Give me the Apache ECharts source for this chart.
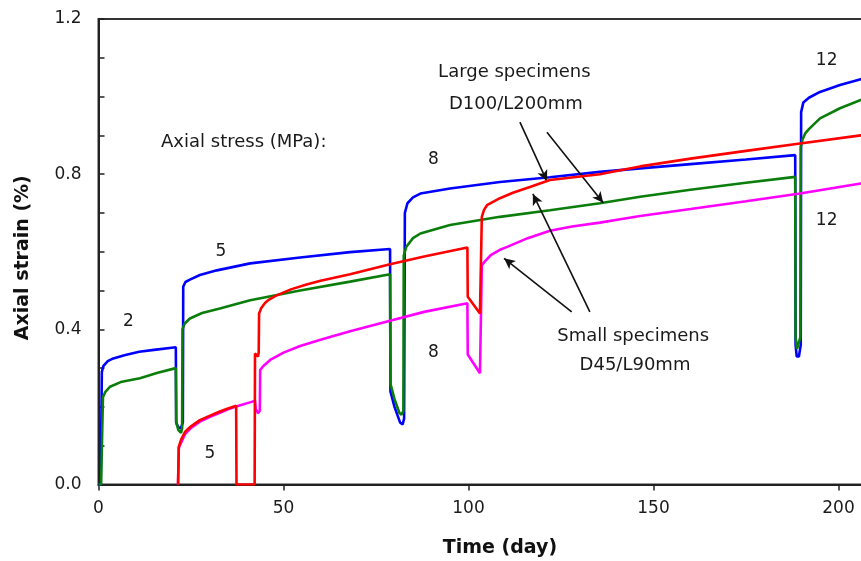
<!DOCTYPE html>
<html><head><meta charset="utf-8">
<script src="https://cdn.jsdelivr.net/npm/echarts@6/dist/echarts.min.js"></script>
<style>html,body{margin:0;padding:0;background:#fff}#c{width:861px;height:561px}</style>
</head><body><div id="c"></div>
<script>
// ---- data: [time (day), axial strain (%)] ----
const largeBlue = [
  [0,0],[0.6,0],[0.9,0.29],[1.3,0.305],[2.5,0.318],[4,0.325],[7,0.333],[11,0.342],[15,0.347],[20.9,0.354],
  [21.0,0.16],[21.5,0.148],[22.3,0.145],[22.8,0.16],[22.9,0.51],[23.5,0.522],[24.7,0.528],[27.4,0.54],[32,0.552],[41,0.57],[54.5,0.585],[68,0.599],[78.8,0.607],
  [78.9,0.24],[80,0.2],[81.5,0.16],[82.2,0.155],[82.6,0.17],[82.8,0.70],[83.5,0.725],[85,0.74],[87,0.75],[95,0.763],[108.5,0.78],[122,0.792],[135.5,0.806],[146.4,0.815],[160,0.826],[175,0.838],[188.3,0.849],
  [188.4,0.36],[188.7,0.33],[189.3,0.33],[189.8,0.36],[189.9,0.96],[190.5,0.985],[192,0.997],[195,1.012],[200.4,1.03],[206,1.045],[212,1.056]
];
const largeGreen = [
  [0,0],[0.7,0],[1.2,0.225],[1.8,0.238],[3.1,0.252],[6,0.264],[11.2,0.274],[16,0.288],[20.9,0.30],
  [21.0,0.16],[21.6,0.14],[22.3,0.133],[22.6,0.145],[22.7,0.40],[23.3,0.415],[24.7,0.428],[28,0.442],[32.8,0.454],[41,0.475],[54.5,0.50],[68,0.523],[78.8,0.542],
  [78.9,0.26],[80,0.22],[81.3,0.185],[81.9,0.18],[82.4,0.19],[82.5,0.59],[83.2,0.613],[85,0.635],[87,0.647],[95,0.669],[108.5,0.69],[122,0.707],[135.5,0.725],[146.4,0.742],[160,0.76],[175,0.778],[188.3,0.793],
  [188.4,0.38],[188.8,0.35],[189.3,0.35],[189.7,0.38],[189.8,0.87],[190.3,0.89],[191,0.905],[192,0.916],[195,0.944],[200.4,0.97],[206,0.991],[212,1.005]
];
const smallRed = [
  [21.5,0],[21.7,0.097],[22.3,0.115],[23.4,0.136],[25,0.15],[27.4,0.166],[30,0.177],[32.8,0.188],[35,0.196],[37.2,0.203],
  [37.3,0],[42.2,0],[42.3,0.338],[42.8,0.34],[43.1,0.33],[43.3,0.34],[43.4,0.441],[44,0.455],[45,0.468],[46,0.476],[48,0.487],[52,0.503],[56,0.515],[60,0.525],[68,0.542],[78.8,0.568],[88,0.588],[99.7,0.611],
  [99.8,0.484],[103.1,0.441],[103.6,0.69],[104.2,0.708],[105,0.72],[108.5,0.738],[112,0.752],[116.6,0.767],[122,0.785],[135.5,0.80],[141,0.81],[146.4,0.82],[160,0.84],[175,0.86],[189.6,0.879],[206,0.90],[212,0.907]
];
const smallMagenta = [
  [21.5,0],[21.7,0.095],[22.3,0.107],[23.4,0.13],[25,0.146],[27.4,0.162],[30,0.174],[32.8,0.185],[35,0.194],[37.2,0.201],[39,0.206],[41.4,0.213],[42.3,0.216],
  [42.5,0.195],[43.1,0.184],[43.6,0.19],[43.7,0.295],[44.5,0.305],[46.4,0.321],[50,0.34],[54.5,0.357],[60,0.373],[68,0.395],[78.8,0.422],[88,0.445],[99.7,0.467],
  [99.8,0.335],[103.1,0.287],[103.3,0.40],[103.6,0.565],[104.5,0.576],[106,0.591],[108.5,0.605],[110.3,0.612],[116,0.635],[122,0.654],[128,0.665],[135.5,0.675],[141,0.684],[146.4,0.692],[160,0.71],[175,0.73],[189.6,0.75],[206,0.776],[212,0.784]
];
const seriesNames = ['Large A','Large B','Small B','Small A'];
const seriesColors = ['#0000ff','#0a7d0a','#ff00ff','#ff0000'];

// ---- axes ----
const xTicks = [0, 50, 100, 150, 200];
const yLabelValues = [0.0, 0.4, 0.8, 1.2];

// ---- annotations: [day, strain, text, align, size] ----
const annotations = [
  [8.1, 0.42, '2', 'center', 17],
  [33.1, 0.60, '5', 'center', 17],
  [30.1, 0.08, '5', 'center', 17],
  [90.5, 0.838, '8', 'center', 17],
  [90.5, 0.34, '8', 'center', 17],
  [196.8, 1.092, '12', 'center', 17],
  [196.8, 0.68, '12', 'center', 17],
  [16.9, 0.883, 'Axial stress (MPa):', 'left', 18],
  [112.4, 1.062, 'Large specimens', 'center', 18],
  [112.8, 0.981, 'D100/L200mm', 'center', 18],
  [144.5, 0.383, 'Small specimens', 'center', 18],
  [145.0, 0.306, 'D45/L90mm', 'center', 18]
];
const arrowStarts = [[113.9,0.934],[121.2,0.908],[132.8,0.445],[127.9,0.445]];
const arrowEnds   = [[121.2,0.782],[136.4,0.726],[117.4,0.749],[109.6,0.583]];

const FONT = 'DejaVu Sans';
const chart = echarts.init(document.getElementById('c'), null, {renderer:'canvas'});
const dataSets = [largeBlue, largeGreen, smallMagenta, smallRed];

const lineSeries = dataSets.map((d,i) => ({
  name: seriesNames[i], type:'line', data:d, showSymbol:false, symbol:'none',
  lineStyle:{color:seriesColors[i], width:2.6}, itemStyle:{color:seriesColors[i]},
  silent:true, z:2+i, animation:false
}));

chart.setOption({
  animation:false,
  grid:{left:98.5, top:19, width:802.9, height:465.5, outerBoundsMode:'none', containLabel:false,
    show:true, borderColor:'#333', borderWidth:2, backgroundColor:'transparent'},
  xAxis:{
    type:'value', min:0, max:217, interval:50,
    name:'Time (day)', nameLocation:'middle', nameGap:54,
    nameTextStyle:{fontFamily:FONT, fontWeight:'bold', fontSize:19, color:'#111'},
    axisLine:{lineStyle:{color:'#222', width:2}},
    axisTick:{show:true, inside:false, length:6, lineStyle:{color:'#222', width:1.5}},
    axisLabel:{fontFamily:FONT, fontSize:17, color:'#1a1a1a', margin:16, showMaxLabel:false,
      formatter: v => xTicks.indexOf(v) >= 0 ? String(v) : ''},
    splitLine:{show:false}
  },
  yAxis:{
    type:'value', min:0, max:1.2, interval:0.1,
    name:'Axial strain (%)', nameLocation:'middle', nameGap:66,
    nameTextStyle:{fontFamily:FONT, fontWeight:'bold', fontSize:19, color:'#111', padding:[0,12,0,0]},
    axisLine:{show:true, lineStyle:{color:'#222', width:2}},
    axisTick:{show:true, inside:true, length:6, lineStyle:{color:'#222', width:1.5}},
    axisLabel:{fontFamily:FONT, fontSize:17, color:'#1a1a1a', margin:17,
      formatter: v => { const m = yLabelValues.find(t => Math.abs(t - v) < 1e-6); return m === undefined ? '' : m.toFixed(1); }},
    splitLine:{show:false}
  },
  series: lineSeries.concat([
    {
      type:'line', data:[], silent:true, z:10,
      markLine:{
        silent:true, animation:false,
        symbol:['none','arrow'], symbolSize:[8,11],
        label:{show:false},
        lineStyle:{color:'#111', width:1.6, type:'solid', opacity:1},
        data: arrowStarts.map((s,i) => [{coord:s}, {coord:arrowEnds[i]}])
      }
    },
    {
      type:'scatter', silent:true, z:11, symbolSize:0,
      itemStyle:{opacity:1},
      data: annotations.map(a => ({
        value:[a[0], a[1]],
        label:{show:true, position:'inside', formatter:a[2], align:a[3], verticalAlign:'middle',
          fontFamily:FONT, fontSize:a[4], color:'#1a1a1a', opacity:1}
      }))
    }
  ])
});
</script></body></html>
